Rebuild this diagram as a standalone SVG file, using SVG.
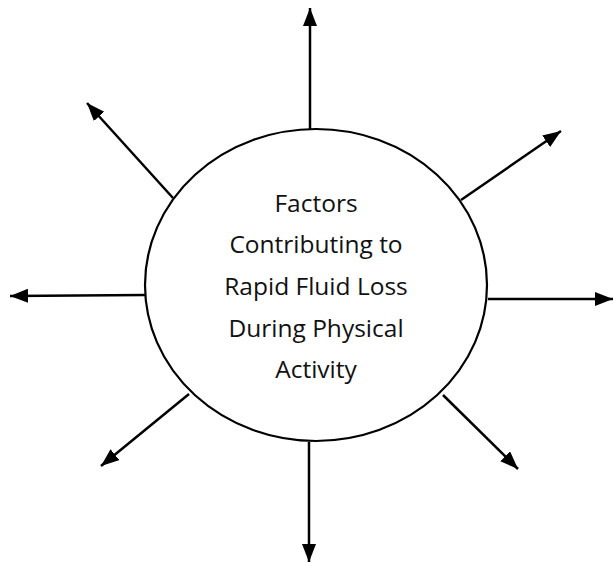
<svg xmlns="http://www.w3.org/2000/svg" width="613" height="563" viewBox="0 0 613 563">
<style>
.c{fill:none;stroke:#000;stroke-width:2.2}
.a{fill:none;stroke:#000;stroke-width:2.5;marker-end:url(#ah)}
.t{font-family:"Open Sans","Liberation Sans",sans-serif;font-size:24.5px;fill:#111;text-anchor:middle}
</style>
<defs>
<marker id="ah" markerUnits="userSpaceOnUse" markerWidth="20" markerHeight="16" refX="18" refY="7" orient="auto">
<path d="M0,0 L18,7 L0,14 Z" fill="#000"/>
</marker>
</defs>
<rect width="613" height="563" fill="#fff"/>
<g id="connectors">
<line class="a" x1="310" y1="129" x2="310" y2="8"/>
<line class="a" x1="309" y1="442" x2="309" y2="562"/>
<line class="a" x1="145" y1="295" x2="10" y2="296"/>
<line class="a" x1="488" y1="299" x2="613" y2="299"/>
<line class="a" x1="173" y1="198" x2="87" y2="103"/>
<line class="a" x1="461" y1="200" x2="561" y2="131"/>
<line class="a" x1="189" y1="394" x2="101" y2="466"/>
<line class="a" x1="443" y1="395" x2="518" y2="469"/>
</g>
<g id="center">
<ellipse class="c" cx="316" cy="285" rx="171" ry="156"/>
<text class="t" x="316" y="212">Factors</text>
<text class="t" x="316" y="253">Contributing to</text>
<text class="t" x="316" y="295">Rapid Fluid Loss</text>
<text class="t" x="316" y="337">During Physical</text>
<text class="t" x="316" y="378">Activity</text>
</g>
</svg>
